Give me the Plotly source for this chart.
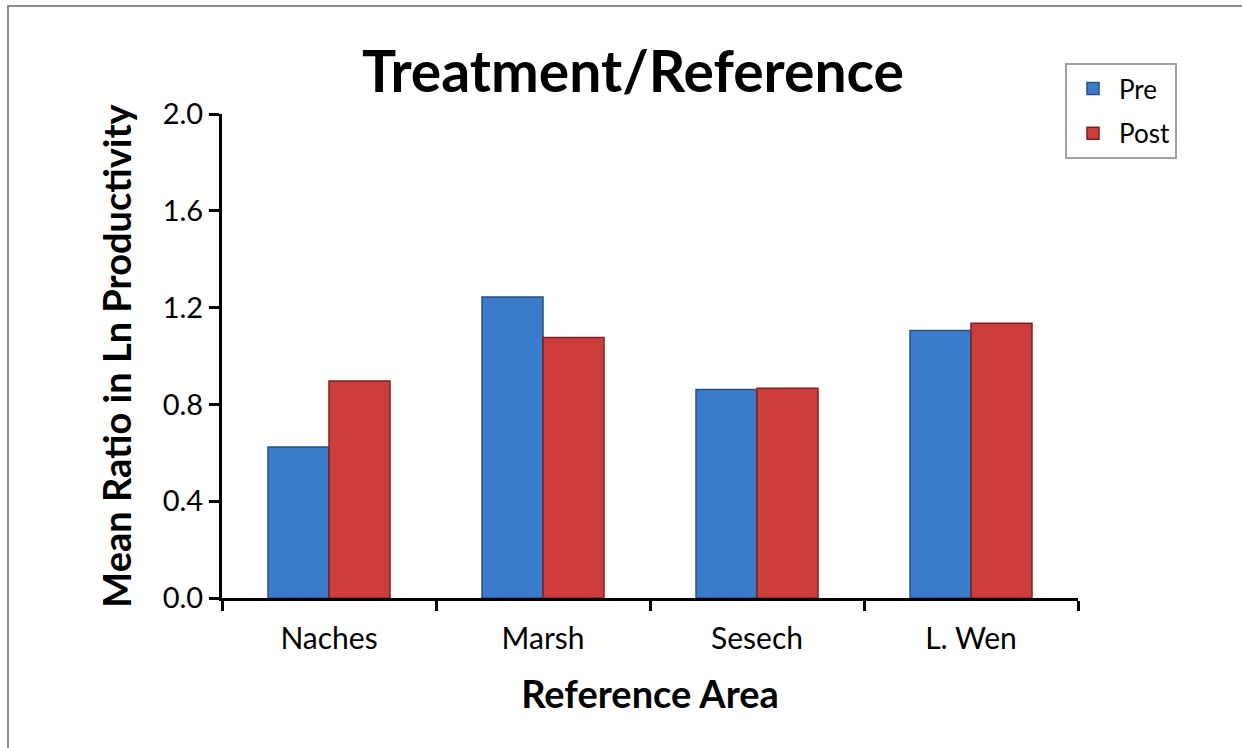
import plotly.graph_objects as go

categories = ["Naches", "Marsh", "Sesech", "L. Wen"]
pre_values = [0.624, 1.244, 0.862, 1.105]
post_values = [0.897, 1.076, 0.867, 1.135]
y_ticks = [0.0, 0.4, 0.8, 1.2, 1.6, 2.0]

FONT = "Lato"

fig = go.Figure()
fig.add_trace(go.Bar(
    name="Pre", x=categories, y=pre_values, legendgroup="a",
    marker=dict(color="#3b7bcb", line=dict(color="#2a4f80", width=1.5)),
))
fig.add_trace(go.Bar(
    name="Post", x=categories, y=post_values, legendgroup="b",
    marker=dict(color="#cc3d3b", line=dict(color="#7a2222", width=1.5)),
))

L, R, T, B = 222, 164, 114, 150
W, H = 1242, 748
pw, ph = W - L - R, H - T - B

def px2x(p):
    return (p - L) / pw

def px2y(p):
    return (H - B - p) / ph

fig.update_layout(
    width=W, height=H,
    margin=dict(l=L, r=R, t=T, b=B),
    paper_bgcolor="white", plot_bgcolor="white",
    barmode="group", bargap=0.43, bargroupgap=0,
    font=dict(family=FONT, color="black"),
    title=dict(text="<b>Treatment/Reference</b>", x=px2x(633), xref="paper",
               y=1 - 72 / H, yanchor="middle", xanchor="center",
               font=dict(size=57, family=FONT)),
    legend=dict(
        x=px2x(1065), y=px2y(63), xanchor="left", yanchor="top",
        bordercolor="#a0a0a0", borderwidth=2, bgcolor="white",
        font=dict(size=26, family=FONT), tracegroupgap=8,
        traceorder="grouped", itemwidth=42,
    ),
    xaxis=dict(
        showline=True, linecolor="black", linewidth=3,
        ticks="outside", tickson="boundaries", ticklen=10, tickwidth=3, tickcolor="black",
        tickfont=dict(size=30, family=FONT), ticklabelstandoff=12,
        title=dict(text="<b>Reference Area</b>", font=dict(size=38, family=FONT), standoff=28),
    ),
    yaxis=dict(
        range=[0, 2.0], tickvals=y_ticks, tickformat=".1f",
        showline=True, linecolor="black", linewidth=3, showgrid=False, zeroline=False,
        ticks="outside", ticklen=10, tickwidth=3, tickcolor="black",
        tickfont=dict(size=29, family=FONT),
        title=dict(text="<b>Mean Ratio in Ln Productivity</b>", font=dict(size=38, family=FONT), standoff=20),
    ),
    shapes=[dict(type="rect", xref="paper", yref="paper",
                 x0=px2x(8), y0=px2y(790), x1=px2x(1290), y1=px2y(6),
                 line=dict(color="#8c8c8c", width=2), fillcolor="rgba(0,0,0,0)", layer="below")],
)

fig.write_html("out.html", config={"displayModeBar": False},
               post_script="document.body.style.margin='0px';document.body.style.overflow='hidden';")
